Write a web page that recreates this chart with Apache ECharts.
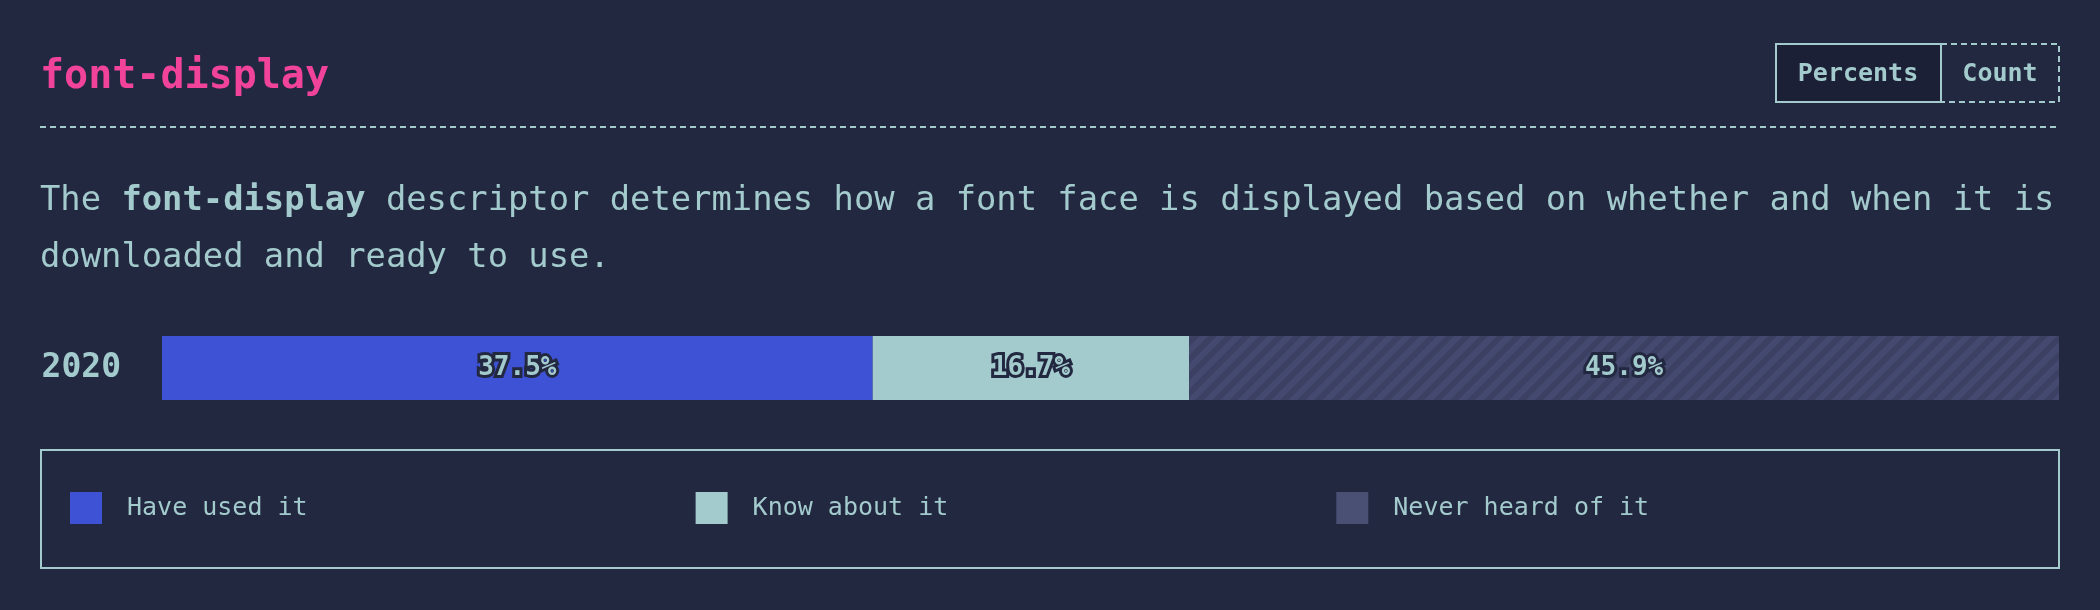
<!DOCTYPE html>
<html>
<head>
<meta charset="utf-8">
<script src="https://cdn.jsdelivr.net/npm/echarts@6/dist/echarts.min.js"></script>
<style>
html,body{margin:0;padding:0;background:#232841;}
#chart{width:2100px;height:610px;}
</style>
</head>
<body>
<div id="chart"></div>
<script>
// ---- data ----
const years = ['2020'];
const seriesNames = ['Have used it', 'Know about it', 'Never heard of it'];
const haveUsed = [37.5];
const knowAbout = [16.7];
const neverHeard = [45.9];
const titleText = 'font-display';
const descLine1 = 'The {b|font-display} descriptor determines how a font face is displayed based on whether and when it is';
const descLine2 = 'downloaded and ready to use.';
const buttons = ['Percents', 'Count'];

// ---- styles ----
const BG = '#232841';
const LIGHT = '#a3cbcd';
const BLUE = '#3d52d4';
const GREY = '#444a6f';
const PINK = '#f2439b';
const MONO = '"DejaVu Sans Mono", "Liberation Mono", monospace';

const total = haveUsed[0] + knowAbout[0] + neverHeard[0];

const labelStyle = {
  show: true,
  position: 'inside',
  formatter: '{c}%',
  fontFamily: MONO,
  fontWeight: 'bold',
  fontSize: 26,
  color: LIGHT,
  textBorderColor: BG,
  textBorderWidth: 6
};

const chart = echarts.init(document.getElementById('chart'), null, {renderer: 'canvas'});
chart.setOption({
  backgroundColor: BG,
  animation: false,
  grid: {left: 162, right: 41, top: 336, height: 64},
  xAxis: {type: 'value', min: 0, max: total, show: false},
  yAxis: {
    type: 'category',
    data: years,
    axisLine: {show: false},
    axisTick: {show: false},
    splitLine: {show: false},
    axisLabel: {
      margin: 41,
      fontFamily: MONO,
      fontWeight: 'bold',
      fontSize: 33,
      color: LIGHT
    }
  },
  legend: {
    left: 70,
    top: 492,
    padding: 0,
    itemWidth: 32,
    itemHeight: 32,
    itemGap: 388,
    icon: 'rect',
    selectedMode: false,
    textStyle: {
      fontFamily: MONO,
      fontSize: 25,
      color: LIGHT,
      padding: [0, 0, 0, 20]
    },
    data: [
      {name: seriesNames[0]},
      {name: seriesNames[1]},
      {name: seriesNames[2], itemStyle: {color: '#4a4f74', decal: 'none'}}
    ]
  },
  series: [
    {
      name: seriesNames[0], type: 'bar', stack: 'total', data: haveUsed,
      barWidth: 64,
      itemStyle: {color: BLUE},
      label: labelStyle
    },
    {
      name: seriesNames[1], type: 'bar', stack: 'total', data: knowAbout,
      barWidth: 64,
      itemStyle: {color: LIGHT},
      label: labelStyle
    },
    {
      name: seriesNames[2], type: 'bar', stack: 'total', data: neverHeard,
      barWidth: 64,
      itemStyle: {
        color: GREY,
        decal: {
          symbol: 'rect',
          symbolSize: 1,
          dashArrayX: [[1, 0]],
          dashArrayY: [6, 6],
          rotation: -Math.PI / 4,
          color: 'rgba(20,24,50,0.18)'
        }
      },
      label: labelStyle
    }
  ],
  graphic: [
    {
      type: 'text', x: 40, y: 78,
      style: {text: titleText, fontFamily: MONO, fontWeight: 'bold', fontSize: 40, fill: PINK, verticalAlign: 'middle'}
    },
    {
      type: 'line',
      shape: {x1: 40, y1: 127, x2: 2060, y2: 127},
      style: {stroke: LIGHT, lineWidth: 2, lineDash: [6, 4]}
    },
    {
      type: 'rect',
      shape: {x: 1776, y: 44, width: 165, height: 58},
      style: {fill: '#1c2036', stroke: LIGHT, lineWidth: 2}
    },
    {
      type: 'rect',
      shape: {x: 1941, y: 44, width: 118, height: 58},
      style: {fill: 'transparent', stroke: LIGHT, lineWidth: 2, lineDash: [6, 4]}
    },
    {
      type: 'text', x: 1858, y: 74,
      style: {text: buttons[0], fontFamily: MONO, fontWeight: 'bold', fontSize: 25, fill: LIGHT, align: 'center', verticalAlign: 'middle'}
    },
    {
      type: 'text', x: 2000, y: 74,
      style: {text: buttons[1], fontFamily: MONO, fontWeight: 'bold', fontSize: 25, fill: LIGHT, align: 'center', verticalAlign: 'middle'}
    },
    {
      type: 'text', x: 40, y: 201,
      style: {
        text: descLine1, fontFamily: MONO, fontSize: 33.8, fill: LIGHT, verticalAlign: 'middle',
        rich: {b: {fontFamily: MONO, fontSize: 33.8, fontWeight: 'bold', fill: LIGHT, color: LIGHT}}
      }
    },
    {
      type: 'text', x: 40, y: 258,
      style: {text: descLine2, fontFamily: MONO, fontSize: 33.8, fill: LIGHT, verticalAlign: 'middle'}
    },
    {
      type: 'rect',
      shape: {x: 41, y: 450, width: 2018, height: 118},
      style: {fill: 'transparent', stroke: LIGHT, lineWidth: 2}
    }
  ]
});
</script>
</body>
</html>
